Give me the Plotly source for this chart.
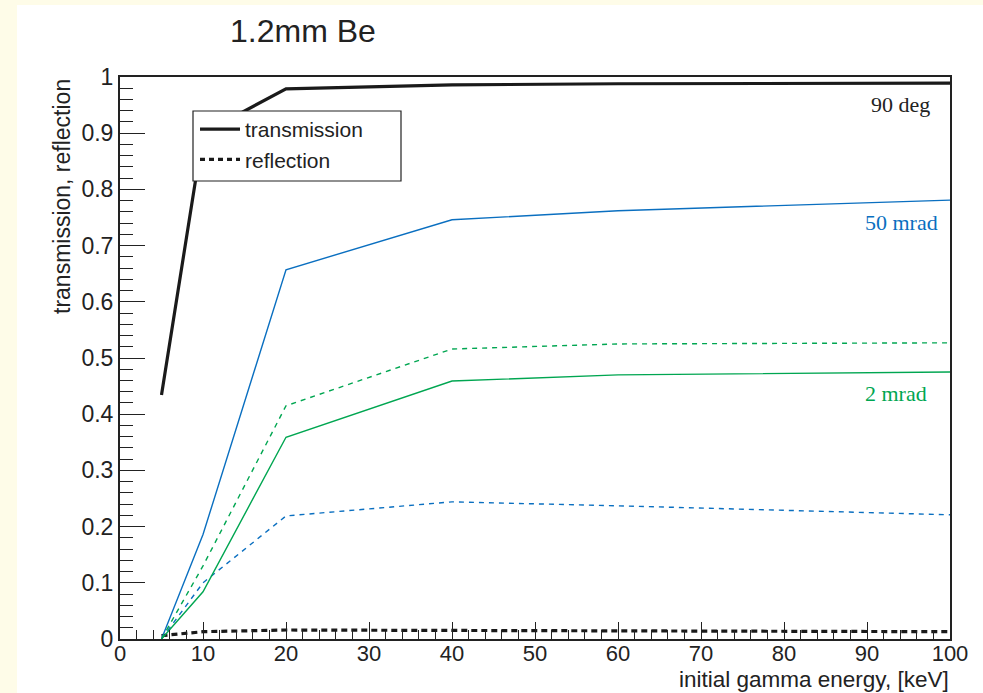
import plotly.graph_objects as go

energy = [5, 10, 20, 40, 60, 100]

trans_90deg = [0.434, 0.90, 0.979, 0.986, 0.988, 0.989]
refl_90deg = [0.006, 0.013, 0.016, 0.015, 0.014, 0.013]
trans_50mrad = [0.0, 0.186, 0.657, 0.746, 0.762, 0.781]
refl_50mrad = [0.0, 0.100, 0.219, 0.244, 0.237, 0.221]
trans_2mrad = [0.0, 0.084, 0.359, 0.459, 0.470, 0.475]
refl_2mrad = [0.0, 0.130, 0.415, 0.516, 0.525, 0.527]

BLUE = "#0a6fc0"
GREEN = "#00a651"
BLACK = "#1a1a1a"

fig = go.Figure()

series = [
    (trans_90deg, BLACK, 3.2, "solid"),
    (refl_90deg, BLACK, 3.2, "6px,4px"),
    (trans_50mrad, BLUE, 1.4, "solid"),
    (refl_50mrad, BLUE, 1.4, "5px,5px"),
    (trans_2mrad, GREEN, 1.4, "solid"),
    (refl_2mrad, GREEN, 1.4, "5px,5px"),
]
for ys, col, w, dash in series:
    fig.add_trace(go.Scatter(x=energy, y=ys, mode="lines",
                             line=dict(color=col, width=w, dash=dash),
                             showlegend=False, hoverinfo="skip"))

fig.add_trace(go.Scatter(x=[None], y=[None], mode="lines", name="transmission",
                         line=dict(color=BLACK, width=3.2)))
fig.add_trace(go.Scatter(x=[None], y=[None], mode="lines", name="reflection",
                         line=dict(color=BLACK, width=3.2, dash="5px,4px")))

L, R, T, B = 120, 33, 77, 54
W, H = 983, 693
pw, ph = W - L - R, H - T - B

def px(xp):
    return (xp - L) / pw

def py(yp):
    return (H - B - yp) / ph

fig.add_shape(type="rect", xref="paper", yref="paper",
              x0=px(17), x1=px(990), y0=py(5), y1=py(700),
              fillcolor="white", line=dict(width=0), layer="below")
# legend frame
fig.add_shape(type="rect", xref="paper", yref="paper",
              x0=px(193), x1=px(401), y0=py(111), y1=py(181),
              fillcolor="white", line=dict(width=1.2, color="#222"), layer="above")

font_sans = "Liberation Sans, Arial, Helvetica, sans-serif"
font_serif = "Liberation Serif, Times New Roman, serif"

fig.update_layout(
    width=W, height=H,
    margin=dict(l=L, r=R, t=T, b=B),
    paper_bgcolor="#fefce8",
    plot_bgcolor="white",
    font=dict(family=font_sans, size=22, color="#222"),
    showlegend=True,
    legend=dict(x=px(195), y=py(109), xanchor="left", yanchor="top",
                bgcolor="rgba(0,0,0,0)", borderwidth=0,
                font=dict(size=21, family=font_sans, color="#222"),
                itemwidth=40, tracegroupgap=10),
)

fig.update_xaxes(
    range=[0, 100], showgrid=False, zeroline=False,
    showline=True, linecolor="#222", linewidth=2, mirror=True,
    ticks="inside", ticklen=17, tickwidth=1.2, tickcolor="#222",
    dtick=10, tick0=0, ticklabelstandoff=-6,
    minor=dict(dtick=2, ticks="inside", ticklen=9, tickwidth=1.2, tickcolor="#222"),
    tickfont=dict(size=22, family=font_sans, color="#222"),
)
fig.update_yaxes(
    range=[0, 1], showgrid=False, zeroline=False,
    showline=True, linecolor="#222", linewidth=2, mirror=True,
    ticks="inside", ticklen=25, tickwidth=1.2, tickcolor="#222",
    dtick=0.1, tick0=0,
    minor=dict(dtick=0.02, ticks="inside", ticklen=13, tickwidth=1.2, tickcolor="#222"),
    tickfont=dict(size=23, family=font_sans, color="#222"),
)

annos = [
    dict(text="1.2mm Be", x=px(228), y=py(31), xanchor="left", yanchor="middle",
         font=dict(size=32, family=font_sans, color="#222")),
    dict(text="initial gamma energy, [keV]", x=1.0, y=py(693), xanchor="right",
         yanchor="bottom", borderpad=0,
         font=dict(size=22.5, family=font_sans, color="#222")),
    dict(text="transmission, reflection", x=px(62), y=py(196), xanchor="center",
         yanchor="middle", textangle=-90,
         font=dict(size=23, family=font_sans, color="#222")),
    dict(text="90 deg", x=px(932), y=py(104), xanchor="right", yanchor="middle",
         font=dict(size=22, family=font_serif, color="#222")),
    dict(text="50 mrad", x=px(940), y=py(222), xanchor="right", yanchor="middle",
         font=dict(size=22, family=font_serif, color=BLUE)),
    dict(text="2 mrad", x=px(929), y=py(393), xanchor="right", yanchor="middle",
         font=dict(size=22, family=font_serif, color=GREEN)),
]
for a in annos:
    fig.add_annotation(xref="paper", yref="paper", showarrow=False, **a)

fig.write_html("out.html")
